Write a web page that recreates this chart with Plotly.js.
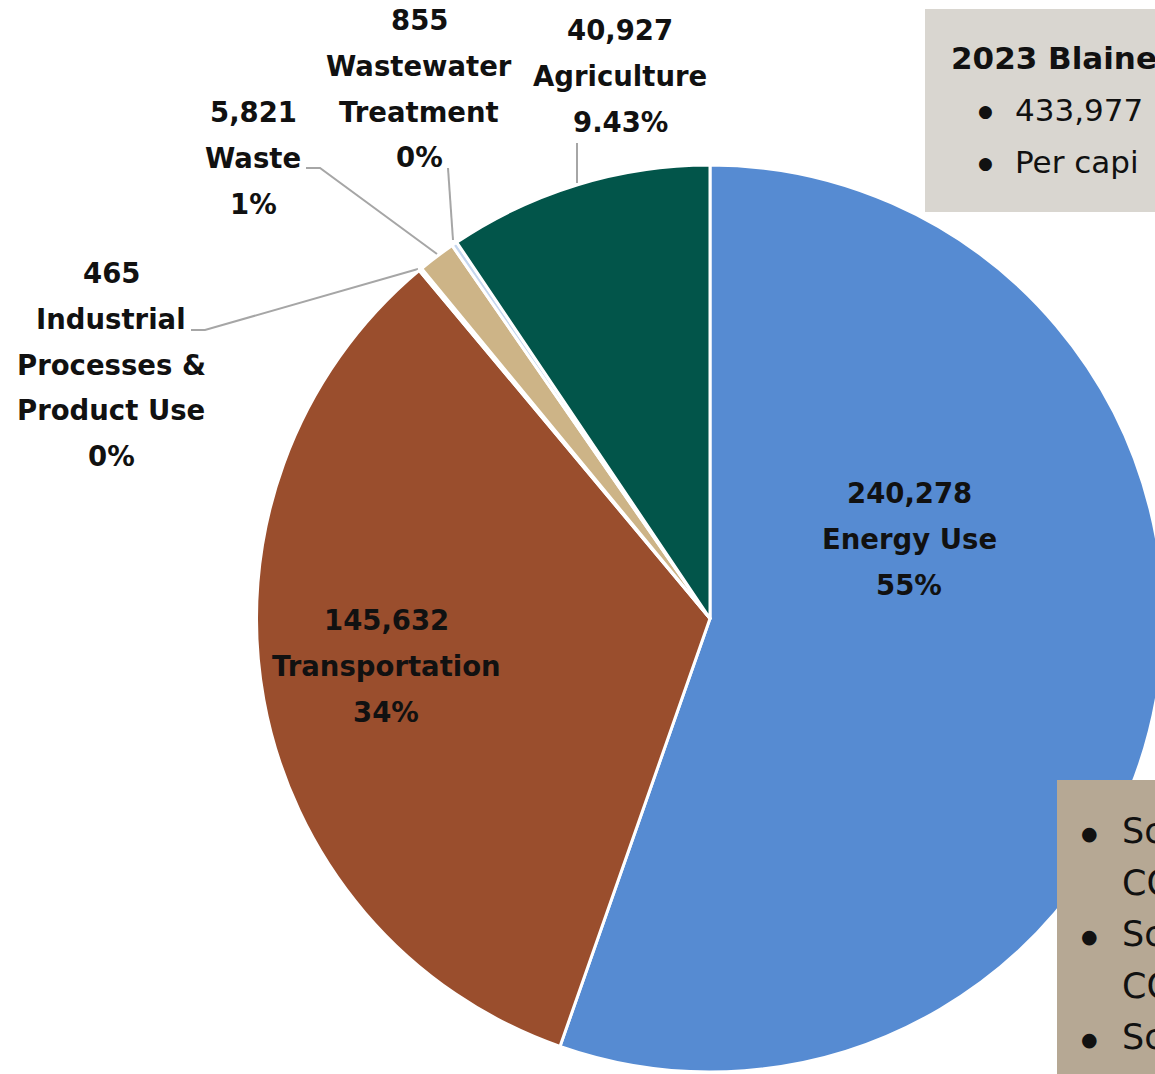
<!DOCTYPE html>
<html>
<head>
<meta charset="utf-8">
<script src="https://cdn.plot.ly/plotly-3.0.1.min.js"></script>
<style>
html,body{margin:0;padding:0;overflow:hidden;background:#fff;}
#chart{width:1420px;height:1074px;}
</style>
</head>
<body>
<div id="chart"></div>
<script>
// ---- data ----
const categories = ['Energy Use', 'Transportation', 'Industrial Processes & Product Use', 'Waste', 'Wastewater Treatment', 'Agriculture'];
const emissions = [240278, 145632, 465, 5821, 855, 40927];
const percentLabels = ['55%', '34%', '0%', '1%', '0%', '9.43%'];
const labelLines = [['Energy Use'], ['Transportation'], ['Industrial', 'Processes &', 'Product Use'], ['Waste'], ['Wastewater', 'Treatment'], ['Agriculture']];
const infoTitle = '2023 Blaine';
const infoBullets = ['433,977', 'Per capi'];
const sourceBullets = [['Sc', 'CO'], ['Sc', 'CO'], ['Sc']];

// ---- styles / layout ----
const W = 1420, H = 1074;
const PX = x => x / W;
const PY = y => 1 - y / H;
const colors = ['#568BD2', '#9A4E2D', '#A8A8A8', '#CDB487', '#C5D6EE', '#02554A'];
const cx = 710, cy = 618.5, R = 453.5;

// label block anchors (centre x, first line y) in pixels
const labelPos = [
  {x: 909, y: 493},
  {x: 386, y: 620},
  {x: 111, y: 273},
  {x: 253, y: 112},
  {x: 419, y: 20},
  {x: 620, y: 30}
];
const lineGap = 45.8;
const labelFont = {family: 'DejaVu Sans, sans-serif', size: 27.5, color: '#111111', weight: 700};

const annotations = [];
categories.forEach((c, i) => {
  const lines = [emissions[i].toLocaleString('en-US')].concat(labelLines[i]).concat([percentLabels[i]]);
  lines.forEach((t, j) => {
    annotations.push({
      xref: 'paper', yref: 'paper', x: PX(labelPos[i].x), y: PY(labelPos[i].y + j * lineGap),
      xanchor: 'center', yanchor: 'middle', showarrow: false, text: t, font: labelFont
    });
  });
});

// info box text
const boxFont = {family: 'DejaVu Sans, sans-serif', size: 31, color: '#111111'};
const bulletFont = {family: 'DejaVu Sans, sans-serif', size: 17, color: '#111111'};
annotations.push({xref: 'paper', yref: 'paper', x: PX(949), y: PY(58), xanchor: 'left', yanchor: 'middle', showarrow: false,
  text: infoTitle, font: Object.assign({}, boxFont, {weight: 700})});
infoBullets.forEach((t, j) => {
  annotations.push({xref: 'paper', yref: 'paper', x: PX(985), y: PY(111 + j * 52), xanchor: 'center', yanchor: 'middle', showarrow: false,
    text: '●', font: bulletFont});
  annotations.push({xref: 'paper', yref: 'paper', x: PX(1013), y: PY(110 + j * 52), xanchor: 'left', yanchor: 'middle', showarrow: false,
    text: t, font: boxFont});
});

// source box text
const srcFont = {family: 'DejaVu Sans, sans-serif', size: 35, color: '#111111'};
const srcBulletFont = {family: 'DejaVu Sans, sans-serif', size: 19, color: '#111111'};
let sy = 831;
sourceBullets.forEach(b => {
  b.forEach((t, j) => {
    if (j === 0) {
      annotations.push({xref: 'paper', yref: 'paper', x: PX(1089), y: PY(sy + 2), xanchor: 'center', yanchor: 'middle', showarrow: false,
        text: '●', font: srcBulletFont});
    }
    annotations.push({xref: 'paper', yref: 'paper', x: PX(1120), y: PY(sy), xanchor: 'left', yanchor: 'middle', showarrow: false,
      text: t, font: srcFont});
    sy += 51.5;
  });
});

const lineStyle = {color: '#A6A6A6', width: 2};
const pathOf = pts => 'M ' + pts.map(p => PX(p[0]) + ',' + PY(p[1])).join(' L ');
const shapes = [
  {type: 'rect', xref: 'paper', yref: 'paper', x0: PX(925), x1: PX(W), y0: PY(212), y1: PY(9), fillcolor: '#D9D6D0', line: {width: 0}, layer: 'above'},
  {type: 'rect', xref: 'paper', yref: 'paper', x0: PX(1057), x1: PX(W), y0: PY(H + 5), y1: PY(780), fillcolor: '#B6A894', line: {width: 0}, layer: 'above'},
  {type: 'path', xref: 'paper', yref: 'paper', path: pathOf([[577, 183], [577, 143]]), line: lineStyle, layer: 'below'},
  {type: 'path', xref: 'paper', yref: 'paper', path: pathOf([[453, 240], [448, 168]]), line: lineStyle, layer: 'below'},
  {type: 'path', xref: 'paper', yref: 'paper', path: pathOf([[437, 254], [320, 168], [306, 168]]), line: lineStyle, layer: 'below'},
  {type: 'path', xref: 'paper', yref: 'paper', path: pathOf([[418, 269], [205, 330], [191, 330]]), line: lineStyle, layer: 'below'}
];

const trace = {
  type: 'pie',
  labels: categories,
  values: emissions,
  sort: false,
  direction: 'clockwise',
  rotation: 0,
  marker: {colors: colors, line: {color: '#FFFFFF', width: 3}},
  textinfo: 'none',
  hoverinfo: 'none',
  showlegend: false,
  domain: {x: [PX(cx - R), PX(cx + R)], y: [PY(cy + R), PY(cy - R)]}
};

const layout = {
  width: W, height: H,
  margin: {l: 0, r: 0, t: 0, b: 0},
  paper_bgcolor: '#FFFFFF',
  showlegend: false,
  annotations: annotations,
  shapes: shapes
};

Plotly.newPlot('chart', [trace], layout, {staticPlot: true, displayModeBar: false});
</script>
</body>
</html>
